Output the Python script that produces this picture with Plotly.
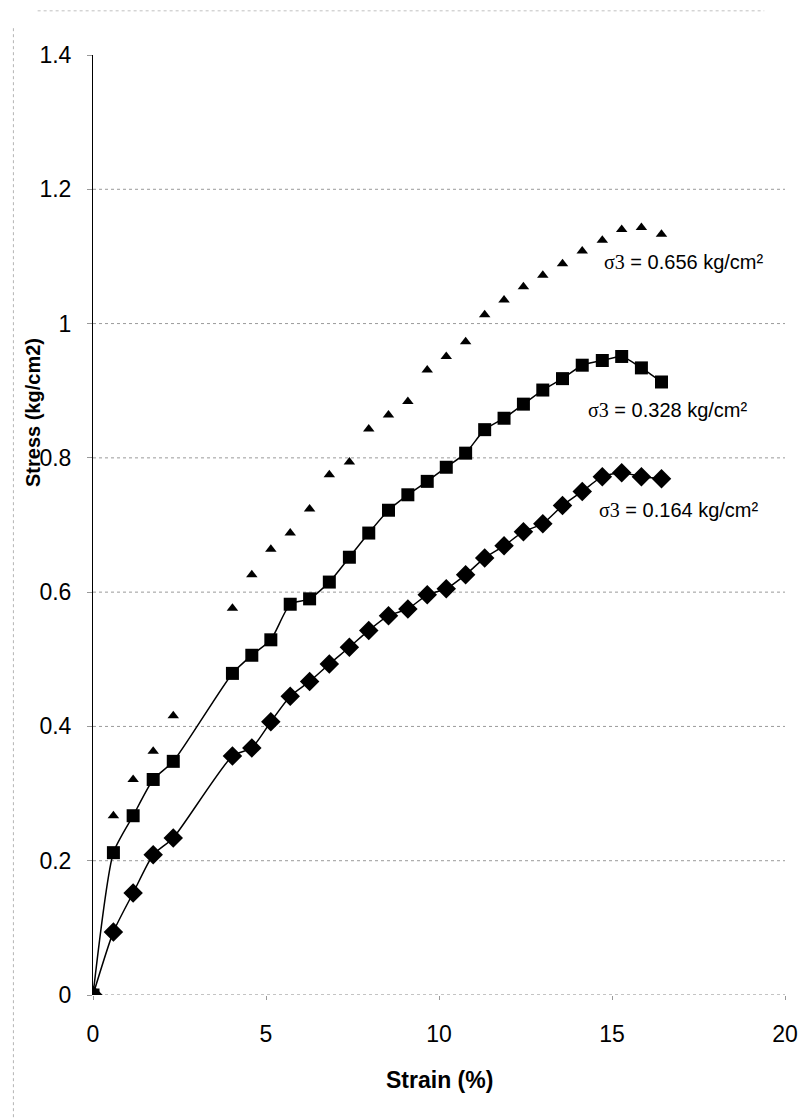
import plotly.graph_objects as go

strain = [0, 0.59, 1.16, 1.74, 2.32, 4.03, 4.59, 5.14, 5.70, 6.26, 6.83, 7.41, 7.97,
          8.54, 9.10, 9.66, 10.21, 10.77, 11.32, 11.88, 12.44, 13.00, 13.57, 14.14,
          14.72, 15.28, 15.85, 16.43]

stress_0656 = [0, 0.267, 0.321, 0.363, 0.416, 0.576, 0.626, 0.664, 0.688, 0.724, 0.775,
               0.794, 0.843, 0.864, 0.884, 0.931, 0.951, 0.973, 1.013, 1.035, 1.055,
               1.072, 1.089, 1.108, 1.124, 1.140, 1.143, 1.133]

stress_0328 = [0, 0.212, 0.267, 0.321, 0.348, 0.479, 0.506, 0.529, 0.582, 0.590, 0.615,
               0.652, 0.688, 0.722, 0.745, 0.765, 0.786, 0.807, 0.842, 0.859, 0.880,
               0.901, 0.918, 0.938, 0.945, 0.951, 0.934, 0.913]

stress_0164 = [0, 0.094, 0.152, 0.209, 0.234, 0.356, 0.368, 0.407, 0.445, 0.467, 0.493,
               0.518, 0.543, 0.565, 0.575, 0.596, 0.605, 0.626, 0.651, 0.669, 0.690,
               0.702, 0.729, 0.750, 0.772, 0.778, 0.772, 0.769]

series_labels = ["σ3 = 0.656 kg/cm²", "σ3 = 0.328 kg/cm²", "σ3 = 0.164 kg/cm²"]

x_ticks = [0, 5, 10, 15, 20]
y_ticks = [0, 0.2, 0.4, 0.6, 0.8, 1.0, 1.2, 1.4]
y_tick_text = ["0", "0.2", "0.4", "0.6", "0.8", "1", "1.2", "1.4"]
grid_levels = [0.2, 0.4, 0.6, 0.8, 1.0, 1.2]

FONT = "Liberation Sans, Arial, sans-serif"

fig = go.Figure()

fig.add_trace(go.Scatter(
    x=strain, y=stress_0164, mode="lines+markers",
    line=dict(color="black", width=1.5, shape="spline", smoothing=0.6),
    marker=dict(symbol="diamond", size=15, color="black"),
    name=series_labels[2]))

fig.add_trace(go.Scatter(
    x=strain, y=stress_0328, mode="lines+markers",
    line=dict(color="black", width=1.5, shape="spline", smoothing=0.6),
    marker=dict(symbol="square", size=13, color="black"),
    name=series_labels[1]))

fig.add_trace(go.Scatter(
    x=strain, y=stress_0656, mode="markers",
    marker=dict(symbol="triangle-up", size=10, color="black"),
    name=series_labels[0]))

shapes = []
for g in grid_levels:
    shapes.append(dict(type="line", xref="paper", yref="y", x0=0, x1=1, y0=g, y1=g,
                       line=dict(color="#9a9a9a", width=1, dash="dot"), layer="below"))
# x-axis baseline
shapes.append(dict(type="line", xref="paper", yref="y", x0=0, x1=1, y0=0, y1=0,
                   line=dict(color="#8a8a8a", width=1.2, dash="dot"), layer="below"))
# scan border artifacts
shapes.append(dict(type="line", xref="paper", yref="paper", x0=-0.115, x1=-0.115,
                   y0=-0.13, y1=1.03, line=dict(color="#b5b5b5", width=1, dash="dot")))
shapes.append(dict(type="line", xref="paper", yref="paper", x0=-0.08, x1=0.97,
                   y0=1.047, y1=1.047, line=dict(color="#c0c0c0", width=1, dash="dot")))

ann_font = dict(family=FONT, size=20, color="black")
annotations = [
    dict(x=14.71, y=1.092, xref="x", yref="y", xanchor="left", yanchor="middle",
         showarrow=False, font=ann_font,
         text='<span style="font-family:Liberation Serif">σ3</span> = 0.656 kg/cm²'),
    dict(x=14.25, y=0.872, xref="x", yref="y", xanchor="left", yanchor="middle",
         showarrow=False, font=ann_font,
         text='<span style="font-family:Liberation Serif">σ3</span> = 0.328 kg/cm²'),
    dict(x=14.57, y=0.723, xref="x", yref="y", xanchor="left", yanchor="middle",
         showarrow=False, font=ann_font,
         text='<span style="font-family:Liberation Serif">σ3</span> = 0.164 kg/cm²'),
    dict(x=-0.087, y=0.62, xref="paper", yref="paper", textangle=-90,
         xanchor="center", yanchor="middle", showarrow=False,
         text="<b>Stress (kg/cm2)</b>", font=dict(family=FONT, size=20, color="black")),
    dict(x=0.5, y=-0.09, xref="paper", yref="paper", xanchor="center", yanchor="middle",
         showarrow=False, text="<b>Strain (%)</b>",
         font=dict(family=FONT, size=23, color="black")),
]

fig.update_layout(
    width=811, height=1120,
    margin=dict(l=93, r=26, t=55, b=125),
    paper_bgcolor="white", plot_bgcolor="white",
    showlegend=False,
    shapes=shapes, annotations=annotations,
    font=dict(family=FONT, size=23, color="black"),
    xaxis=dict(range=[0, 20], tickvals=x_ticks, showgrid=False, zeroline=False,
               showline=False, ticks="outside", ticklen=4, tickcolor="#999",
               ticklabelstandoff=14, tickfont=dict(size=23)),
    yaxis=dict(range=[0, 1.4], tickvals=y_ticks, ticktext=y_tick_text, showgrid=False,
               zeroline=False, showline=True, linecolor="black", linewidth=1,
               ticks="outside", ticklen=5, tickcolor="#999", ticklabelstandoff=11,
               tickfont=dict(size=23)),
)

fig.write_html("out.html")
